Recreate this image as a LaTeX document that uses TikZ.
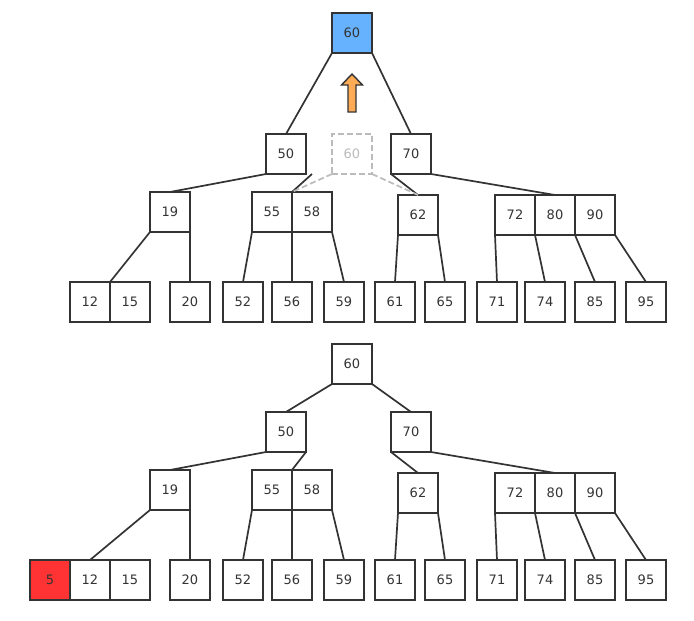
\documentclass[tikz,border=0pt]{standalone}
\usepackage{fontspec}
\setmainfont{DejaVu Sans}
\usetikzlibrary{calc}
\definecolor{ink}{HTML}{333333}
\definecolor{ghost}{HTML}{BBBBBB}
\definecolor{rootblue}{HTML}{66B2FF}
\definecolor{newred}{HTML}{FF3333}
\definecolor{uporange}{HTML}{FFAA55}
\tikzset{
	key/.style={draw=ink, line width=1.9pt, minimum size=40pt, inner sep=0pt, outer sep=0pt, text=ink, font=\fontsize{13}{15}\selectfont},
	ghostkey/.style={key, draw=ghost, text=ghost, dash pattern=on 6pt off 3pt},
	link/.style={draw=ink, line width=1.7pt},
	ghostlink/.style={draw=ghost, line width=1.7pt, dash pattern=on 6pt off 3pt}
}

\begin{document}
\begin{tikzpicture}[x=1pt, y=-1pt]
			%%%%% START %%%%%
			
			\useasboundingbox (0, 0) rectangle (694, 621);
			
			%%%%% UPPER TREE %%%%%
			
			\node[key, fill=rootblue] (tR) at (352, 33) {60};
			
			\draw[line width=1.4pt, draw=ink, fill=uporange] (348, 112) -- (348, 85) -- (341.5, 85) -- (352, 74) -- (362.5, 85) -- (356, 85) -- (356, 112) -- cycle;
			
			\node[key] (t50) at (286, 154) {50};
			\node[ghostkey] (tG) at (352, 154) {60};
			\node[key] (t70) at (411, 154) {70};
			
			\node[key] (t19) at (170, 212) {19};
			\node[key] (t55) at (272, 212) {55};
			\node[key] (t58) at (312, 212) {58};
			\node[key] (t62) at (418, 215) {62};
			\node[key] (t72) at (515, 215) {72};
			\node[key] (t80) at (555, 215) {80};
			\node[key] (t90) at (595, 215) {90};
			
			\node[key] (t12) at (90, 302) {12};
			\node[key] (t15) at (130, 302) {15};
			\node[key] (t20) at (190, 302) {20};
			\node[key] (t52) at (243, 302) {52};
			\node[key] (t56) at (292, 302) {56};
			\node[key] (t59) at (344, 302) {59};
			\node[key] (t61) at (395, 302) {61};
			\node[key] (t65) at (445, 302) {65};
			\node[key] (t71) at (497, 302) {71};
			\node[key] (t74) at (545, 302) {74};
			\node[key] (t85) at (595, 302) {85};
			\node[key] (t95) at (646, 302) {95};
			
			\draw[link] (tR.south west) -- (t50.north);
			\draw[link] (tR.south east) -- (t70.north);
			\draw[link] (t50.south west) -- (t19.north);
			\draw[link] ([xshift=6pt]t50.south east) -- (t55.north east);
			\draw[link] (t70.south west) -- (t62.north);
			\draw[link] (t70.south east) -- (t80.north);
			\draw[ghostlink] (tG.south west) -- (t55.north east);
			\draw[ghostlink] (tG.south east) -- (t62.north);
			
			\draw[link] (t19.south west) -- (t12.north east);
			\draw[link] (t19.south east) -- (t20.north);
			\draw[link] (t55.south west) -- (t52.north);
			\draw[link] (t55.south east) -- (t56.north);
			\draw[link] (t58.south east) -- (t59.north);
			\draw[link] (t62.south west) -- (t61.north);
			\draw[link] (t62.south east) -- (t65.north);
			\draw[link] (t72.south west) -- (t71.north);
			\draw[link] (t72.south east) -- (t74.north);
			\draw[link] (t80.south east) -- (t85.north);
			\draw[link] (t90.south east) -- (t95.north);
			
			%%%%% LOWER TREE %%%%%
			
			\node[key] (bR) at (352, 364) {60};
			
			\node[key] (b50) at (286, 432) {50};
			\node[key] (b70) at (411, 432) {70};
			
			\node[key] (b19) at (170, 490) {19};
			\node[key] (b55) at (272, 490) {55};
			\node[key] (b58) at (312, 490) {58};
			\node[key] (b62) at (418, 493) {62};
			\node[key] (b72) at (515, 493) {72};
			\node[key] (b80) at (555, 493) {80};
			\node[key] (b90) at (595, 493) {90};
			
			\node[key, fill=newred] (b5) at (50, 580) {5};
			\node[key] (b12) at (90, 580) {12};
			\node[key] (b15) at (130, 580) {15};
			\node[key] (b20) at (190, 580) {20};
			\node[key] (b52) at (243, 580) {52};
			\node[key] (b56) at (292, 580) {56};
			\node[key] (b59) at (344, 580) {59};
			\node[key] (b61) at (395, 580) {61};
			\node[key] (b65) at (445, 580) {65};
			\node[key] (b71) at (497, 580) {71};
			\node[key] (b74) at (545, 580) {74};
			\node[key] (b85) at (595, 580) {85};
			\node[key] (b95) at (646, 580) {95};
			
			\draw[link] (bR.south west) -- (b50.north);
			\draw[link] (bR.south east) -- (b70.north);
			\draw[link] (b50.south west) -- (b19.north);
			\draw[link] (b50.south east) -- (b55.north east);
			\draw[link] (b70.south west) -- (b62.north);
			\draw[link] (b70.south east) -- (b80.north);
			
			\draw[link] (b19.south west) -- (b12.north);
			\draw[link] (b19.south east) -- (b20.north);
			\draw[link] (b55.south west) -- (b52.north);
			\draw[link] (b55.south east) -- (b56.north);
			\draw[link] (b58.south east) -- (b59.north);
			\draw[link] (b62.south west) -- (b61.north);
			\draw[link] (b62.south east) -- (b65.north);
			\draw[link] (b72.south west) -- (b71.north);
			\draw[link] (b72.south east) -- (b74.north);
			\draw[link] (b80.south east) -- (b85.north);
			\draw[link] (b90.south east) -- (b95.north);
			
			%%%%% END %%%%%
\end{tikzpicture}
\end{document}
